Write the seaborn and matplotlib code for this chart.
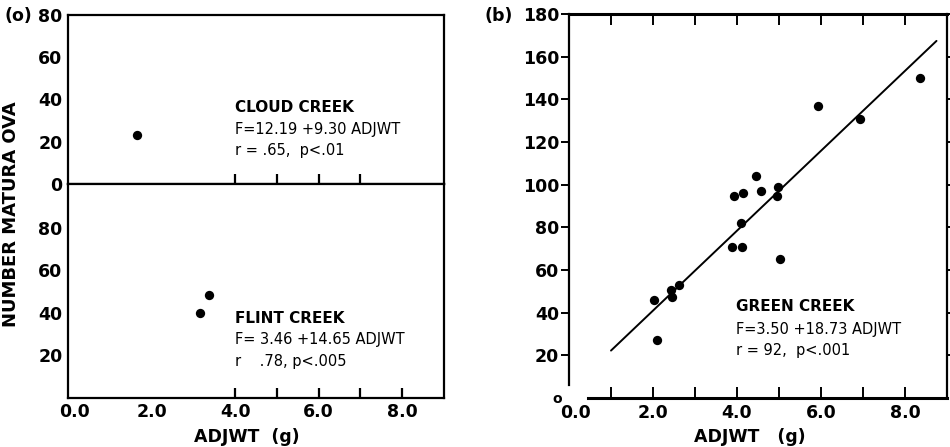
import numpy as np
import pandas as pd
import matplotlib.pyplot as plt
import seaborn as sns

# ── data ────────────────────────────────────────────────────────────────────
cloud_wt = [1.65]
cloud_ova = [23]

flint_wt = [3.16, 3.38]
flint_ova = [40, 48.5]

green_wt = [2.03, 2.10, 2.44, 2.46, 2.63, 3.89, 3.92, 4.09, 4.11, 4.15,
            4.45, 4.57, 4.95, 4.97, 5.03, 5.92, 6.94, 8.36]
green_ova = [46, 27, 50.5, 47.5, 53, 71, 94.5, 82, 71, 96,
             104, 97, 94.5, 99, 65, 137, 131, 150]

# fitted line for Green Creek: F = 3.50 + 18.73 ADJWT
green_fit_x = [1.0, 8.75]
green_a, green_b = 3.50, 18.73

x_tick_pos = [0, 2, 4, 6, 8]
x_tick_labels = ["0.0", "2.0", "4.0", "6.0", "8.0"]

sns.set_theme(style="ticks")
plt.rcParams["font.family"] = ["DejaVu Sans"]
for key in ("text.color", "axes.labelcolor", "xtick.color", "ytick.color",
            "axes.edgecolor"):
    plt.rcParams[key] = "black"

TICKFONT = dict(fontweight="bold", fontsize=12.5, color="black")
TITLEFONT = dict(fontsize=11, fontweight="bold", va="center")
EQFONT = dict(fontsize=10.5, va="center")
W, H = 950, 447


def fx(px):
    return px / W


def fy(py):
    return 1 - py / H


fig = plt.figure(figsize=(9.5, 4.47), dpi=100)

# ── left panel: Cloud Creek (top) and Flint Creek (bottom) ──────────────────
ax_top = fig.add_axes([fx(68), fy(184), fx(444) - fx(68), fy(15) - fy(184)])
ax_bot = fig.add_axes([fx(68), fy(398), fx(444) - fx(68), fy(184) - fy(398)])

sns.scatterplot(x=cloud_wt, y=cloud_ova, ax=ax_top, color="black", s=45,
                edgecolor="black", linewidth=0)
sns.scatterplot(x=flint_wt, y=flint_ova, ax=ax_bot, color="black", s=45,
                edgecolor="black", linewidth=0)

for ax in (ax_top, ax_bot):
    ax.set_xlim(0, 9)
    for s in ax.spines.values():
        s.set_linewidth(1.6)
    ax.tick_params(axis="y", length=0, pad=4)
    ax.tick_params(axis="x", direction="in", length=7, width=1.6)
    ax.set_xlabel("")
    ax.set_ylabel("")

ax_top.set_ylim(0, 80)
ax_top.set_yticks([0, 20, 40, 60, 80])
ax_top.set_yticklabels(["0", "20", "40", "60", "80"], **TICKFONT)
ax_top.set_xticks([4, 5, 6, 7])
ax_top.set_xticklabels([])

ax_bot.set_ylim(0, 100.7)
ax_bot.set_yticks([20, 40, 60, 80])
ax_bot.set_yticklabels(["20", "40", "60", "80"], **TICKFONT)
ax_bot.set_xticks([4, 5, 6, 7, 8])
ax_bot.set_xticklabels([])
for xv, lab in zip(x_tick_pos, x_tick_labels):
    ax_bot.text(xv + (0.15 if xv == 0 else 0), -6.6, lab, ha="center",
                va="center", **TICKFONT)
fig.text(fx(247), fy(437), "ADJWT  (g)", ha="center", va="center",
         **TICKFONT)

ax_top.text(4.0, 36, "CLOUD CREEK", **TITLEFONT)
ax_top.text(4.0, 26, "F=12.19 +9.30 ADJWT", **EQFONT)
ax_top.text(4.0, 16, "r = .65,  p<.01", **EQFONT)

ax_bot.text(4.0, 37.6, "FLINT CREEK", **TITLEFONT)
ax_bot.text(4.0, 27.3, "F= 3.46 +14.65 ADJWT", **EQFONT)
ax_bot.text(4.0, 17.4, "r    .78, p<.005", **EQFONT)

fig.text(fx(11), fy(214), "NUMBER MATURA OVA", rotation=90,
         ha="center", va="center", fontweight="bold", fontsize=13)
fig.text(fx(4), fy(16), "(o)", ha="left", va="center",
         fontweight="bold", fontsize=12.5)

# ── right panel: Green Creek ────────────────────────────────────────────────
ax_g = fig.add_axes([fx(569), fy(398), fx(947) - fx(569), fy(14) - fy(398)])

green = pd.DataFrame({"ADJWT": green_wt, "OVA": green_ova})
sns.scatterplot(data=green, x="ADJWT", y="OVA", ax=ax_g, color="black",
                s=45, edgecolor="black", linewidth=0)
fit = pd.DataFrame({"ADJWT": green_fit_x})
fit["OVA"] = green_a + green_b * fit["ADJWT"]
sns.lineplot(data=fit, x="ADJWT", y="OVA", ax=ax_g, color="black",
             linewidth=1.4)

ax_g.set_xlim(0, 9)
ax_g.set_ylim(0, 180)
for s in ax_g.spines.values():
    s.set_linewidth(1.6)
ax_g.spines["bottom"].set_linewidth(2.2)
ax_g.spines["top"].set_linewidth(2.2)
ax_g.spines["left"].set_bounds(6, 180)
ax_g.spines["bottom"].set_bounds(0.45, 9)

ax_g.set_yticks([20, 40, 60, 80, 100, 120, 140, 160, 180])
ax_g.set_yticklabels(["20", "40", "60", "80", "100", "120", "140", "160",
                      "180"], **TICKFONT)
ax_g.tick_params(axis="y", direction="out", length=6, width=1.4, pad=1,
                 right=True)
ax_g.set_xticks([1, 2, 3, 4, 5, 6, 7, 8])
ax_g.set_xticklabels([])
ax_g.tick_params(axis="x", direction="in", length=8, width=1.4, top=True)
for xv, lab in zip(x_tick_pos, x_tick_labels):
    ax_g.text(xv + (0.15 if xv == 0 else 0), -7, lab, ha="center",
              va="center", **TICKFONT)
ax_g.text(-0.27, -0.5, "o", ha="center", va="center", fontweight="bold",
          fontsize=10)
fig.text(fx(750), fy(437), "ADJWT   (g)", ha="center", va="center",
         **TICKFONT)
ax_g.set_xlabel("")
ax_g.set_ylabel("")

ax_g.text(3.97, 42.7, "GREEN CREEK", **TITLEFONT)
ax_g.text(3.97, 32.3, "F=3.50 +18.73 ADJWT", **EQFONT)
ax_g.text(3.97, 22.5, "r = 92,  p<.001", **EQFONT)

fig.text(fx(484), fy(16), "(b)", ha="left", va="center",
         fontweight="bold", fontsize=12.5)

fig.savefig("out.png", dpi=100)
